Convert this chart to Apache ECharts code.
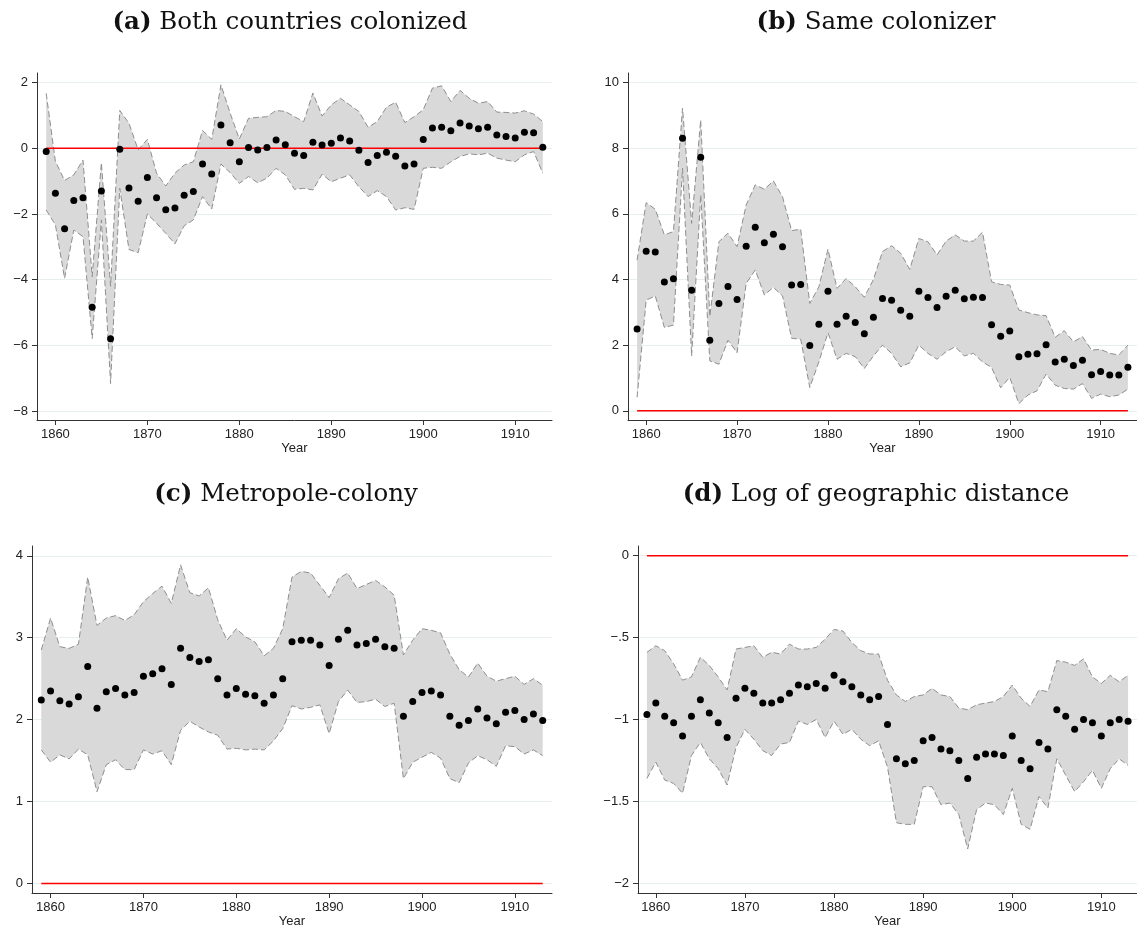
<!DOCTYPE html>
<html>
<head>
<meta charset="utf-8">
<script src="https://cdn.jsdelivr.net/npm/echarts@6/dist/echarts.min.js"></script>
<style>
html,body{margin:0;padding:0;background:#fff;}
#chart{width:1137px;height:934px;}
</style>
</head>
<body>
<div id="chart"></div>
<script>
const years = [];
for (let y = 1859; y <= 1913; y++) years.push(y);

const xTicks = [1860, 1870, 1880, 1890, 1900, 1910];

// (a) Both countries colonized
const aEst = [-0.10,-1.37,-2.45,-1.59,-1.51,-4.84,-1.30,-5.80,-0.03,-1.21,
  -1.61,-0.89,-1.51,-1.87,-1.82,-1.43,-1.32,-0.48,-0.78,0.71,
  0.17,-0.41,0.02,-0.05,0.02,0.25,0.11,-0.15,-0.22,0.18,
  0.10,0.15,0.31,0.22,-0.06,-0.43,-0.22,-0.12,-0.24,-0.54,
  -0.48,0.27,0.62,0.64,0.53,0.77,0.68,0.59,0.64,0.40,
  0.36,0.31,0.49,0.47,0.03];
const aHi = [1.67,-0.40,-0.98,-0.81,-0.36,-3.91,-0.44,-4.20,1.15,0.76,
  -0.05,0.27,-0.76,-1.15,-0.76,-0.51,-0.41,0.54,0.27,1.93,
  1.07,0.28,0.91,0.94,0.96,1.15,1.12,0.96,0.81,1.68,
  0.98,1.32,1.52,1.32,1.12,0.64,0.81,1.25,1.40,0.78,
  0.96,1.17,1.83,1.90,1.42,1.76,1.52,1.37,1.42,1.10,
  1.09,1.07,1.14,1.04,0.81];
const aLo = [-1.88,-2.33,-3.96,-2.49,-2.69,-5.79,-2.18,-7.16,-1.22,-3.08,
  -3.18,-2.00,-2.28,-2.59,-2.91,-2.36,-2.18,-1.47,-1.85,-0.48,
  -0.74,-1.07,-0.86,-1.05,-0.91,-0.61,-0.81,-1.25,-1.22,-1.27,
  -0.79,-1.02,-0.91,-0.81,-1.17,-1.47,-1.29,-1.47,-1.88,-1.81,
  -1.86,-0.61,-0.58,-0.61,-0.41,-0.25,-0.17,-0.20,-0.15,-0.30,
  -0.36,-0.41,-0.20,-0.10,-0.76];
const aTicks = [-8, -6, -4, -2, 0, 2];

// (b) Same colonizer
const bEst = [2.49,4.86,4.84,3.92,4.02,8.30,3.67,7.72,2.15,3.27,
  3.79,3.39,5.01,5.59,5.12,5.38,5.00,3.83,3.85,1.99,
  2.64,3.64,2.64,2.88,2.69,2.35,2.85,3.42,3.37,3.06,
  2.88,3.64,3.45,3.15,3.49,3.67,3.41,3.46,3.45,2.62,
  2.27,2.43,1.65,1.72,1.74,2.01,1.49,1.57,1.38,1.54,
  1.10,1.20,1.09,1.09,1.33];
const bHi = [4.59,6.34,6.14,5.36,5.46,9.22,5.71,8.86,2.87,5.15,
  5.41,5.00,6.27,6.88,6.75,7.00,6.52,5.49,5.53,3.27,
  3.78,4.92,3.73,4.03,3.78,3.46,4.00,4.85,5.03,4.80,
  4.31,5.25,5.15,4.75,5.17,5.36,5.17,5.17,5.44,3.93,
  3.85,3.83,3.07,2.99,2.92,2.90,2.24,2.44,2.10,2.26,
  1.85,1.87,1.75,1.70,2.00];
const bLo = [0.41,3.37,3.50,2.54,2.61,7.39,1.67,6.58,1.52,1.42,
  2.15,1.77,3.88,4.29,3.53,3.76,3.50,2.21,2.18,0.71,
  1.49,2.38,1.57,1.75,1.65,1.29,1.67,2.00,1.75,1.34,
  1.46,2.00,1.75,1.57,1.80,1.95,1.67,1.75,1.49,1.32,
  0.70,1.02,0.22,0.48,0.61,1.12,0.78,0.68,0.66,0.83,
  0.38,0.51,0.43,0.48,0.66];
const bTicks = [0, 2, 4, 6, 8, 10];

// (c) Metropole-colony
const cEst = [2.24,2.35,2.23,2.19,2.28,2.65,2.14,2.34,2.38,2.30,
  2.33,2.53,2.56,2.62,2.43,2.87,2.76,2.71,2.73,2.50,
  2.30,2.38,2.31,2.29,2.20,2.30,2.50,2.95,2.97,2.97,
  2.91,2.66,2.98,3.09,2.91,2.93,2.98,2.89,2.87,2.04,
  2.22,2.33,2.35,2.30,2.04,1.93,1.99,2.13,2.02,1.95,
  2.09,2.11,2.00,2.07,1.99];
const cHi = [2.85,3.24,2.89,2.87,2.92,3.74,3.15,3.24,3.27,3.21,
  3.28,3.44,3.54,3.63,3.42,3.89,3.55,3.51,3.61,3.22,
  2.97,3.11,3.01,2.95,2.78,2.87,3.11,3.74,3.81,3.79,
  3.64,3.49,3.72,3.79,3.60,3.65,3.70,3.62,3.52,2.79,
  2.97,3.11,3.09,3.06,2.80,2.61,2.52,2.69,2.53,2.47,
  2.50,2.53,2.43,2.50,2.42];
const cLo = [1.63,1.48,1.57,1.52,1.64,1.57,1.12,1.45,1.51,1.39,
  1.39,1.63,1.58,1.62,1.45,1.87,1.98,1.91,1.85,1.81,
  1.64,1.65,1.63,1.64,1.63,1.74,1.89,2.17,2.13,2.15,
  2.18,1.83,2.22,2.36,2.21,2.22,2.25,2.16,2.20,1.28,
  1.48,1.54,1.60,1.53,1.28,1.23,1.47,1.56,1.51,1.43,
  1.68,1.67,1.58,1.63,1.56];
const cTicks = [0, 1, 2, 3, 4];

// (d) Log of geographic distance
const dEst = [-0.97,-0.90,-0.98,-1.02,-1.10,-0.98,-0.88,-0.96,-1.02,-1.11,
  -0.87,-0.81,-0.84,-0.90,-0.90,-0.88,-0.84,-0.79,-0.80,-0.78,
  -0.81,-0.73,-0.77,-0.80,-0.85,-0.88,-0.86,-1.03,-1.24,-1.27,
  -1.25,-1.13,-1.11,-1.18,-1.19,-1.25,-1.36,-1.23,-1.21,-1.21,
  -1.22,-1.10,-1.25,-1.30,-1.14,-1.18,-0.94,-0.98,-1.06,-1.00,
  -1.02,-1.10,-1.02,-1.00,-1.01];
const dHi = [-0.59,-0.55,-0.58,-0.66,-0.76,-0.74,-0.62,-0.67,-0.74,-0.82,
  -0.57,-0.56,-0.55,-0.62,-0.59,-0.60,-0.54,-0.57,-0.57,-0.56,
  -0.51,-0.45,-0.46,-0.53,-0.58,-0.60,-0.60,-0.76,-0.85,-0.89,
  -0.86,-0.85,-0.81,-0.85,-0.86,-0.93,-0.94,-0.91,-0.90,-0.89,
  -0.86,-0.79,-0.87,-0.92,-0.82,-0.83,-0.64,-0.65,-0.67,-0.63,
  -0.74,-0.78,-0.73,-0.77,-0.73];
const dLo = [-1.36,-1.26,-1.37,-1.39,-1.45,-1.22,-1.14,-1.24,-1.30,-1.40,
  -1.17,-1.06,-1.12,-1.19,-1.22,-1.15,-1.14,-1.01,-1.03,-1.00,
  -1.11,-1.01,-1.09,-1.06,-1.12,-1.16,-1.13,-1.29,-1.63,-1.64,
  -1.64,-1.41,-1.41,-1.52,-1.51,-1.58,-1.79,-1.55,-1.51,-1.52,
  -1.58,-1.42,-1.64,-1.67,-1.47,-1.54,-1.24,-1.34,-1.44,-1.38,
  -1.31,-1.42,-1.30,-1.24,-1.28];
const dTicks = [-2, -1.5, -1, -0.5, 0];

const titles = ['(a)|Both countries colonized', '(b)|Same colonizer', '(c)|Metropole-colony', '(d)|Log of geographic distance'];

const panels = [
  {est: aEst, hi: aHi, lo: aLo, ticks: aTicks, ymin: -8.27, ymax: 2.29},
  {est: bEst, hi: bHi, lo: bLo, ticks: bTicks, ymin: -0.28, ymax: 10.29},
  {est: cEst, hi: cHi, lo: cLo, ticks: cTicks, ymin: -0.117, ymax: 4.12},
  {est: dEst, hi: dHi, lo: dLo, ticks: dTicks, ymin: -2.059, ymax: 0.059}
];

const layout = [
  {grid: {left: 37, top: 73, width: 515, height: 347}, tx: 285, ty: 5},
  {grid: {left: 628, top: 73, width: 509, height: 347}, tx: 871, ty: 5},
  {grid: {left: 32, top: 546, width: 520, height: 347}, tx: 281, ty: 477},
  {grid: {left: 638, top: 546, width: 499, height: 347}, tx: 871, ty: 477}
];

const serif = 'DejaVu Serif';
const sans = 'Liberation Sans';
const axisCol = '#333333';

function fmt(v) {
  let s = String(v);
  if (s.startsWith('-0.')) s = '-' + s.slice(2);
  else if (s.startsWith('0.')) s = s.slice(1);
  return s.replace('-', '\u2212');
}

const option = {
  animation: false,
  backgroundColor: '#fff',
  title: [], grid: [], xAxis: [], yAxis: [], series: []
};

panels.forEach((p, i) => {
  const L = layout[i];
  const parts = titles[i].split('|');
  option.title.push({
    text: '{b|' + parts[0] + '} ' + parts[1],
    left: L.tx, top: L.ty, textAlign: 'center',
    textStyle: {
      fontFamily: serif, fontSize: 24.5, fontWeight: 'normal', color: '#111',
      rich: {b: {fontFamily: serif, fontSize: 24.5, fontWeight: 'bold', color: '#111'}}
    }
  });
  option.grid.push(Object.assign({containLabel: false}, L.grid));
  option.xAxis.push({
    type: 'value', gridIndex: i, min: 1858, max: 1914,
    name: 'Year', nameLocation: 'middle', nameGap: 22,
    nameTextStyle: {fontFamily: sans, fontSize: 13, color: '#222'},
    axisLine: {show: true, onZero: false, lineStyle: {color: axisCol, width: 1}},
    axisTick: {show: true, length: 5, customValues: xTicks, lineStyle: {color: axisCol}},
    axisLabel: {customValues: xTicks, fontFamily: sans, fontSize: 13, color: '#222', margin: 8,
      formatter: v => String(v)},
    splitLine: {show: false}
  });
  option.yAxis.push({
    type: 'value', gridIndex: i, min: p.ymin, max: p.ymax,
    axisLine: {show: true, onZero: false, lineStyle: {color: axisCol, width: 1}},
    axisTick: {show: true, length: 5, customValues: p.ticks, lineStyle: {color: axisCol}},
    axisLabel: {customValues: p.ticks, fontFamily: sans, fontSize: 13, color: '#222', margin: 9, formatter: fmt},
    splitLine: {show: true, lineStyle: {color: '#e6eeee', width: 1}}
  });
  // CI band fill
  option.series.push({
    type: 'custom', xAxisIndex: i, yAxisIndex: i, z: 1, silent: true,
    data: years.map((y, k) => [y, p.hi[k], p.lo[k]]),
    encode: {x: 0, y: [1, 2]},
    renderItem: function (params, api) {
      if (params.dataIndex !== 0) return null;
      const pts = [];
      for (let k = 0; k < years.length; k++) pts.push(api.coord([years[k], p.hi[k]]));
      for (let k = years.length - 1; k >= 0; k--) pts.push(api.coord([years[k], p.lo[k]]));
      return {type: 'polygon', shape: {points: pts}, style: {fill: '#d9d9d9', stroke: null}};
    }
  });
  // CI edges
  [p.hi, p.lo].forEach(arr => {
    option.series.push({
      type: 'line', xAxisIndex: i, yAxisIndex: i, z: 2, silent: true,
      data: years.map((y, k) => [y, arr[k]]),
      showSymbol: false, symbol: 'none',
      lineStyle: {color: '#8f8f8f', width: 1, type: [6, 3]}
    });
  });
  // zero line
  option.series.push({
    type: 'line', xAxisIndex: i, yAxisIndex: i, z: 3, silent: true,
    data: years.map(y => [y, 0]),
    showSymbol: false, symbol: 'none',
    lineStyle: {color: '#ff0000', width: 1.5}
  });
  // point estimates
  option.series.push({
    type: 'scatter', xAxisIndex: i, yAxisIndex: i, z: 4, silent: true,
    data: years.map((y, k) => [y, p.est[k]]),
    symbol: 'circle', symbolSize: 7,
    itemStyle: {color: '#000', opacity: 1}
  });
});

const chart = echarts.init(document.getElementById('chart'), null, {renderer: 'canvas'});
chart.setOption(option);
</script>
</body>
</html>
